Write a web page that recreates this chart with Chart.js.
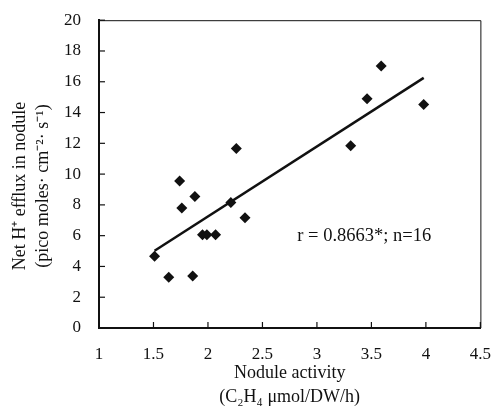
<!DOCTYPE html>
<html>
<head>
<meta charset="utf-8">
<script src="https://cdn.jsdelivr.net/npm/chart.js@4/dist/chart.umd.min.js"></script>
<style>
  html, body { margin: 0; padding: 0; background: #fff; }
  #wrap { width: 499px; height: 408px; }
</style>
</head>
<body>
<div id="wrap"><canvas id="chart" width="499" height="408"></canvas></div>
<script>
// Nodule activity (x) vs net H+ efflux (y)
const activity = [1.51, 1.64, 1.74, 1.76, 1.86, 1.88, 1.95, 1.99, 2.07, 2.21, 2.26, 2.34, 3.31, 3.46, 3.59, 3.98];
const efflux   = [4.66, 3.29, 9.55, 7.80, 3.38, 8.55, 6.06, 6.06, 6.06, 8.16, 11.67, 7.16, 11.84, 14.89, 17.03, 14.52];

// regression line end points
const fitX = [1.51, 3.98];
const fitY = [5.02, 16.25];

const yTitle = ['Net H\u207A efflux in nodule', '(pico moles\u00B7 cm\u207B\u00B2\u00B7 s\u207B\u00B9)'];
const xTitle = ['Nodule activity', '(C\u2082H\u2084 \u03BCmol/DW/h)'];
const note = 'r = 0.8663*; n=16';

const INK = '#111';
const SERIF = '"Liberation Serif", "Times New Roman", serif';

// frame, inward ticks, titles and the r annotation
const decorations = {
    id: 'decorations',
    afterDraw(chart) {
        const { ctx, chartArea: a, scales } = chart;
        ctx.save();
        ctx.strokeStyle = INK;
        ctx.lineWidth = 1;
        ctx.beginPath();
        ctx.moveTo(a.left, a.top + 0.5);
        ctx.lineTo(a.right + 0.5, a.top + 0.5);
        ctx.lineTo(a.right + 0.5, a.bottom);
        ctx.stroke();

        // ticks pointing inwards
        ctx.lineWidth = 1.2;
        scales.x.ticks.forEach(t => {
            const px = scales.x.getPixelForValue(t.value);
            ctx.beginPath();
            ctx.moveTo(px, a.bottom);
            ctx.lineTo(px, a.bottom - 6);
            ctx.stroke();
        });
        scales.y.ticks.forEach(t => {
            const py = scales.y.getPixelForValue(t.value);
            ctx.beginPath();
            ctx.moveTo(a.left, py);
            ctx.lineTo(a.left + 6, py);
            ctx.stroke();
        });

        ctx.fillStyle = INK;
        ctx.font = '18px ' + SERIF;
        ctx.textAlign = 'center';
        ctx.textBaseline = 'middle';

        // y title, rotated
        ctx.save();
        ctx.translate(20, 186);
        ctx.rotate(-Math.PI / 2);
        ctx.fillText(yTitle[0], 0, 0);
        ctx.fillText(yTitle[1], 0, 23);
        ctx.restore();

        // x title
        const cx = (a.left + a.right) / 2;
        ctx.fillText(xTitle[0], cx, 373);
        ctx.fillText(xTitle[1], cx, 397);

        // annotation
        ctx.font = '18.5px ' + SERIF;
        ctx.textAlign = 'left';
        ctx.fillText(note, scales.x.getPixelForValue(2.82), scales.y.getPixelForValue(5.95));
        ctx.restore();
    }
};

new Chart(document.getElementById('chart'), {
    type: 'scatter',
    data: {
        datasets: [
            {
                label: 'Samples',
                data: activity.map((x, i) => ({ x, y: efflux[i] })),
                pointStyle: 'rectRot',
                pointRadius: 5.5,
                pointBackgroundColor: INK,
                pointBorderWidth: 0,
                order: 1
            },
            {
                type: 'line',
                label: 'Fit',
                data: fitX.map((x, i) => ({ x, y: fitY[i] })),
                borderColor: INK,
                borderWidth: 2.5,
                pointRadius: 0,
                fill: false,
                order: 2
            }
        ]
    },
    options: {
        responsive: false,
        animation: false,
        layout: { padding: { top: 20, right: 12, left: 0, bottom: 0 } },
        plugins: {
            legend: { display: false },
            tooltip: { enabled: false }
        },
        scales: {
            x: {
                type: 'linear',
                min: 1,
                max: 4.5,
                afterFit(scale) { scale.height = 80; },
                grid: { display: false },
                border: { display: true, color: INK, width: 2 },
                ticks: {
                    stepSize: 0.5,
                    padding: 8,
                    color: INK,
                    font: { family: SERIF, size: 17 },
                    maxRotation: 0,
                    callback: v => String(v)
                }
            },
            y: {
                min: 0,
                max: 20,
                afterFit(scale) { scale.width = 99; },
                grid: { display: false },
                border: { display: true, color: INK, width: 2 },
                ticks: {
                    stepSize: 2,
                    padding: 10,
                    color: INK,
                    font: { family: SERIF, size: 17 }
                }
            }
        }
    },
    plugins: [decorations]
});
</script>
</body>
</html>
